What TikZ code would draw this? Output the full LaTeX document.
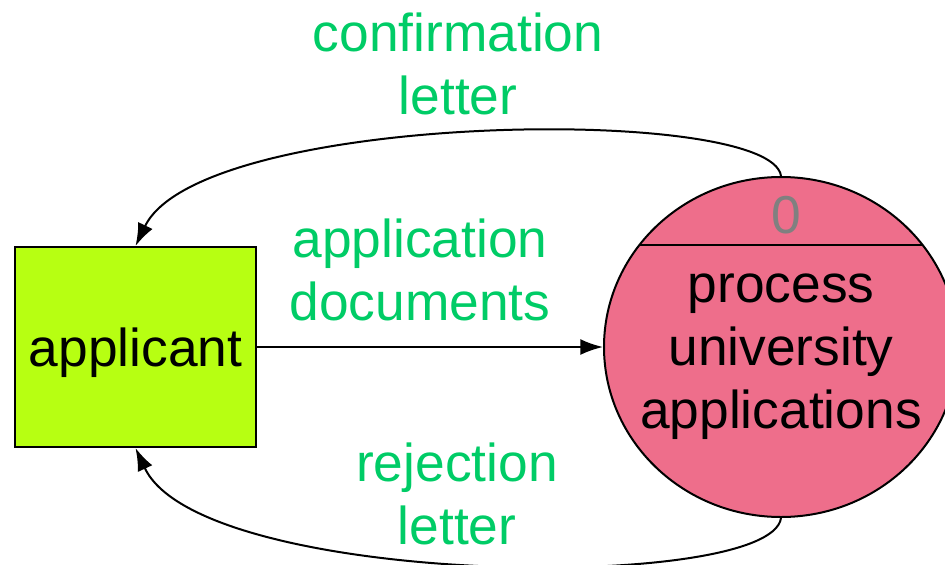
\documentclass[tikz,border=0pt]{standalone}
\usepackage{fontspec}
\setmainfont{Liberation Sans}
\usetikzlibrary{shapes.geometric,arrows.meta,positioning,calc}
\definecolor{limefill}{HTML}{B7FF12}
\definecolor{pinkfill}{HTML}{EE6E8B}
\definecolor{labelgreen}{HTML}{00CC66}
\begin{document}
\begin{tikzpicture}[
        x=0.75pt, y=-0.75pt,
        font=\fontsize{40}{47.25}\selectfont,
        entity/.style = {rectangle, draw, line width=1.5pt, fill=limefill, minimum width=180.75pt, minimum height=150pt, inner sep=0pt, text depth=0pt},
        process/.style = {ellipse, draw, line width=1.5pt, fill=pinkfill, minimum width=265.5pt, minimum height=255pt, inner sep=0pt},
        flowlabel/.style = {text=labelgreen, align=center},
        line/.style = {draw, line width=1.5pt, -{Latex[length=17pt, width=12pt]}}
    ]
        \useasboundingbox (0,0) rectangle (945,564);

        % Place nodes
        \node [entity] at (135.5,347) (app) {applicant};
        \node [process] at (781,347) (proc) {};
        \draw [line width=1.5pt] ($(proc.center)+(-142,-102)$) -- ($(proc.center)+(142,-102)$);
        \node [text=gray] at ($(proc.center)+(5,-132)$) (procid) {0};
        \node [align=center] at ($(proc.center)+(0,10)$) (proctext) {process\\university\\applications};

        \node [flowlabel] at (458,64) (conflab) {confirmation\\letter};
        \node [flowlabel] at (420,270) (applab) {application\\documents};
        \node [flowlabel] at (457,494) (rejlab) {rejection\\letter};

        % Draw edges
        \draw [line] (app.east) -- (proc.west);
        \draw [line] (proc.north) .. controls +(-10,-72) and +(65,-135) .. (app.north);
        \draw [line] (proc.south) .. controls +(-10,75) and +(65,140) .. (app.south);

    \end{tikzpicture}
\end{document}
